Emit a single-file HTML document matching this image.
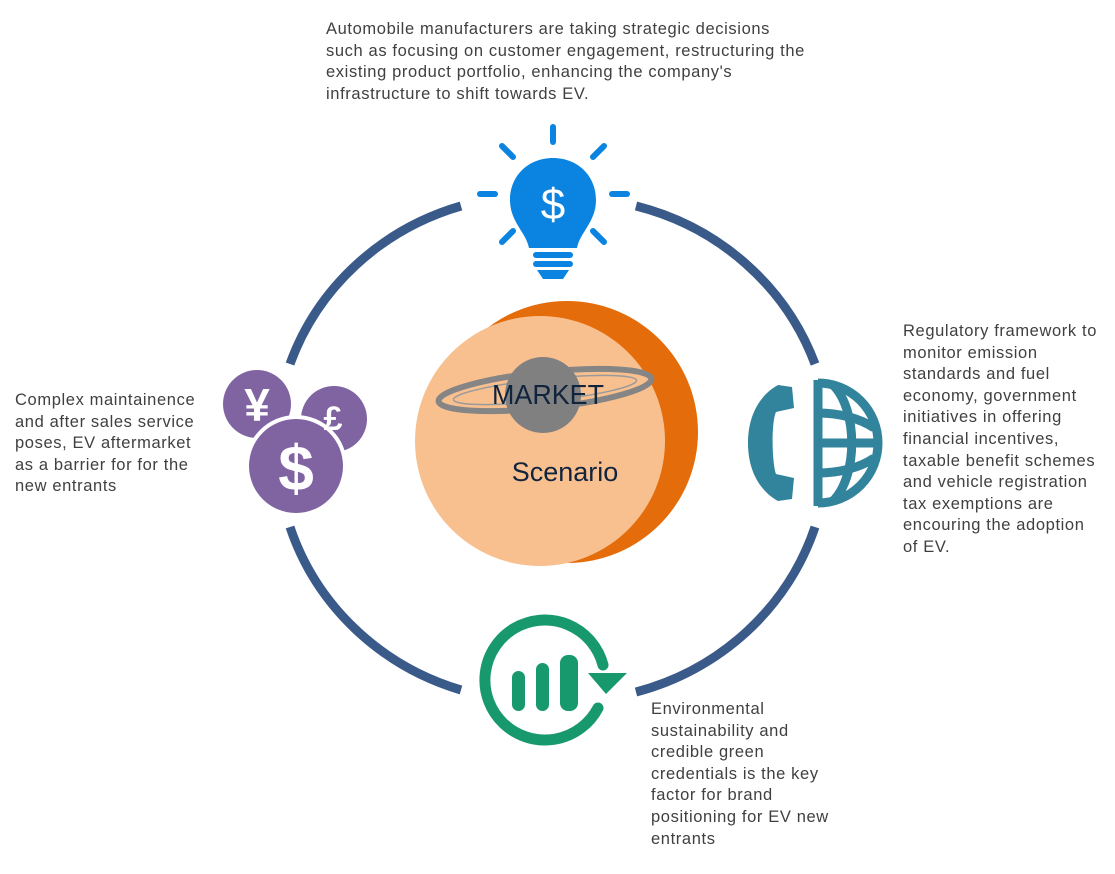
<!DOCTYPE html>
<html><head><meta charset="utf-8"><style>
html,body{margin:0;padding:0;background:#fff;}
body{width:1115px;height:874px;position:relative;overflow:hidden;font-family:"Liberation Sans",sans-serif;}
.t{position:absolute;color:#404040;font-size:16.5px;line-height:21.6px;white-space:nowrap;letter-spacing:0.62px;}
</style></head><body>
<svg width="1115" height="874" style="position:absolute;left:0;top:0">
<g fill="none" stroke="#3a5a8a" stroke-width="9">
<path d="M461,206 A260,252 0 0,0 290,364"/>
<path d="M636,206 A260,252 0 0,1 815,364"/>
<path d="M290,527 A260,252 0 0,0 461,690"/>
<path d="M636,692 A260,252 0 0,0 815,527"/>
</g>
<circle cx="567" cy="432" r="131" fill="#e46c0a"/>
<circle cx="540" cy="441" r="125" fill="#f9c08f"/>
<ellipse cx="545" cy="390" rx="107" ry="18" transform="rotate(-6 545 390)" fill="none" stroke="#858585" stroke-width="6"/>
<ellipse cx="545" cy="390" rx="92" ry="11" transform="rotate(-6 545 390)" fill="none" stroke="#9a9a9a" stroke-width="1.5"/>
<circle cx="543" cy="395" r="38" fill="#808080"/>
<text x="548" y="404" font-family="Liberation Sans,sans-serif" font-size="28" fill="#10243e" text-anchor="middle" textLength="112" lengthAdjust="spacingAndGlyphs">MARKET</text>
<text x="565" y="481" font-family="Liberation Sans,sans-serif" font-size="27" fill="#10243e" text-anchor="middle">Scenario</text>
<g fill="#0a84e0" stroke="#0a84e0">
<g stroke-width="6" stroke-linecap="round">
<line x1="553" y1="127" x2="553" y2="142"/>
<line x1="502" y1="146" x2="513" y2="157"/>
<line x1="604" y1="146" x2="593" y2="157"/>
<line x1="480" y1="194" x2="495" y2="194"/>
<line x1="612" y1="194" x2="627" y2="194"/>
<line x1="502" y1="242" x2="513" y2="231"/>
<line x1="604" y1="242" x2="593" y2="231"/>
</g>
<path stroke="none" d="M553,158 C578,158 596,176 596,200 C596,222 580,232 577,248 L529,248 C526,232 510,222 510,200 C510,176 528,158 553,158 Z"/>
<rect x="533" y="252" width="40" height="6" rx="3" stroke="none"/>
<rect x="533" y="261" width="40" height="6" rx="3" stroke="none"/>
<path stroke="none" d="M537,270 L569,270 L563,279 L543,279 Z"/>
</g>
<text x="553" y="219" font-family="Liberation Sans,sans-serif" font-size="44" fill="#fff" text-anchor="middle">$</text>
<circle cx="257" cy="404" r="34" fill="#8064a2"/>
<circle cx="334" cy="419" r="33" fill="#8064a2"/>
<circle cx="296" cy="466" r="51" fill="#fff"/>
<circle cx="296" cy="466" r="47" fill="#8064a2"/>
<text x="257" y="421" font-family="Liberation Sans,sans-serif" font-weight="bold" font-size="46" fill="#fff" text-anchor="middle">¥</text>
<text x="333" y="430" font-family="Liberation Sans,sans-serif" font-weight="bold" font-size="34" fill="#fff" text-anchor="middle">£</text>
<text x="296" y="490" font-family="Liberation Sans,sans-serif" font-weight="bold" font-size="64" fill="#fff" text-anchor="middle">$</text>
<g fill="none" stroke="#31849b" stroke-width="9">
<path d="M818,383 A60,60 0 0,1 818,503"/>
<line x1="818" y1="380" x2="818" y2="506"/>
<path d="M833,385 C858,410 858,476 833,501"/>
<path d="M818,413 C838,413 860,418 874,428"/>
<path d="M818,473 C838,473 860,468 874,458"/>
<line x1="818" y1="443" x2="880" y2="443"/>
</g>
<path d="M778,385 C760,395 748,415 748,443 C748,471 760,491 778,501 L792,499 L794,478 L776,474 C772,463 771,423 776,412 L794,408 L792,387 Z" fill="#31849b"/>
<path d="M598,708 A60,60 0 1,1 603,665" fill="none" stroke="#17996d" stroke-width="11" stroke-linecap="round"/>
<path d="M588,673 L627,673 L606,694 Z" fill="#17996d"/>
<rect x="512" y="671" width="13" height="40" rx="6.5" fill="#17996d"/>
<rect x="536" y="663" width="13" height="48" rx="6.5" fill="#17996d"/>
<rect x="560" y="655" width="18" height="56" rx="8" fill="#17996d"/>
</svg>
<div class="t" style="left:326px;top:19px">Automobile manufacturers are taking strategic decisions<br>such as focusing on customer engagement, restructuring the<br>existing product portfolio, enhancing the company's<br>infrastructure to shift towards EV.</div>
<div class="t" style="left:15px;top:390px">Complex maintainence<br>and after sales service<br>poses, EV aftermarket<br>as a barrier for for the<br>new entrants</div>
<div class="t" style="left:903px;top:321px">Regulatory framework to<br>monitor emission<br>standards and fuel<br>economy, government<br>initiatives in offering<br>financial incentives,<br>taxable benefit schemes<br>and vehicle registration<br>tax exemptions are<br>encouring the adoption<br>of EV.</div>
<div class="t" style="left:651px;top:699px">Environmental<br>sustainability and<br>credible green<br>credentials is the key<br>factor for brand<br>positioning for EV new<br>entrants</div>
</body></html>
